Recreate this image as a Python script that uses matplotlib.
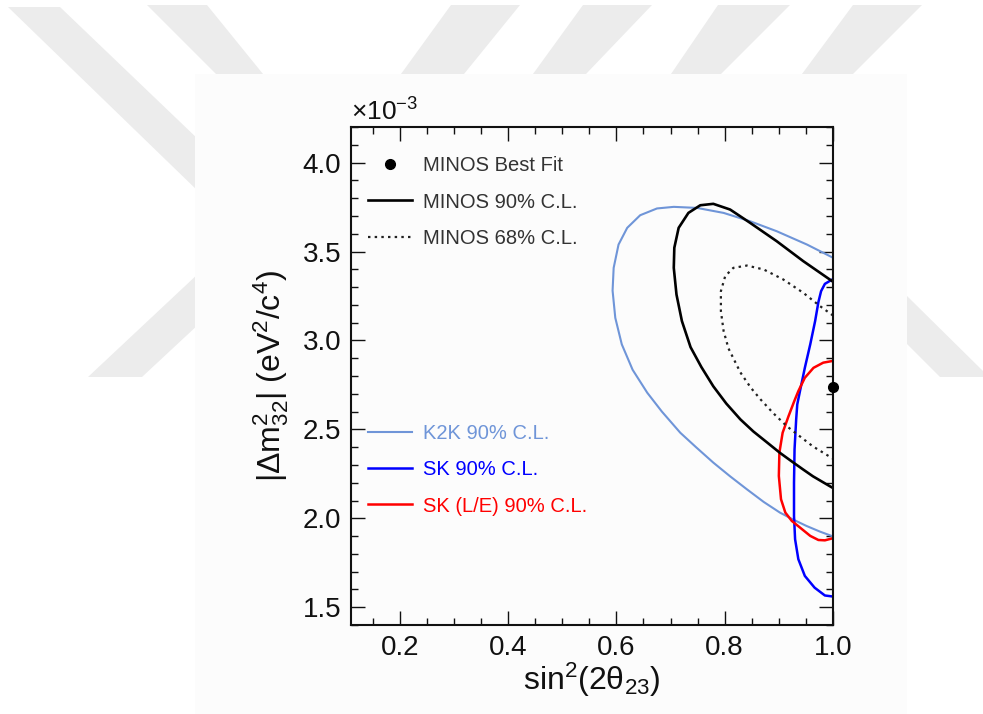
import matplotlib
matplotlib.use("Agg")
import matplotlib.pyplot as plt
from matplotlib.patches import Polygon, Rectangle
from matplotlib.ticker import MultipleLocator

plt.rcParams['font.family'] = ['Liberation Sans', 'DejaVu Sans']
plt.rcParams['mathtext.fontset'] = 'custom'
plt.rcParams['mathtext.rm'] = 'Liberation Sans'
plt.rcParams['mathtext.it'] = 'Liberation Sans:italic'
plt.rcParams['mathtext.bf'] = 'Liberation Sans:bold'

# contours: x = sin^2(2 theta_23), y = |dm^2_32| in units of 1e-3 eV^2
k2k_x = [1.000, 0.952, 0.896, 0.847, 0.798, 0.749, 0.706, 0.675, 0.644, 0.620,
         0.604, 0.595, 0.593, 0.598, 0.610, 0.630, 0.657, 0.684, 0.718, 0.747,
         0.779, 0.810, 0.841, 0.872, 0.902, 0.927, 0.951, 0.976, 1.000]
k2k_y = [3.465, 3.539, 3.614, 3.670, 3.717, 3.745, 3.751, 3.742, 3.704, 3.633,
         3.539, 3.408, 3.280, 3.127, 2.978, 2.835, 2.706, 2.600, 2.481, 2.400,
         2.313, 2.236, 2.163, 2.092, 2.032, 1.992, 1.957, 1.925, 1.898]

minos90_x = [1.000, 0.945, 0.896, 0.847, 0.810, 0.779, 0.755, 0.733, 0.715, 0.707,
             0.706, 0.711, 0.721, 0.737, 0.757, 0.779, 0.803, 0.829, 0.853, 0.878,
             0.902, 0.926, 0.945, 0.963, 0.982, 1.000]
minos90_y = [3.330, 3.446, 3.558, 3.661, 3.736, 3.768, 3.760, 3.717, 3.633, 3.521,
             3.408, 3.258, 3.109, 2.962, 2.850, 2.742, 2.645, 2.556, 2.488, 2.427,
             2.368, 2.315, 2.274, 2.236, 2.202, 2.170]

minos68_x = [1.000, 0.976, 0.945, 0.908, 0.872, 0.841, 0.816, 0.801, 0.793, 0.793,
             0.798, 0.807, 0.829, 0.848, 0.866, 0.890, 0.915, 0.940, 0.963, 1.000]
minos68_y = [3.140, 3.193, 3.268, 3.343, 3.399, 3.421, 3.408, 3.362, 3.277, 3.165,
             3.053, 2.955, 2.820, 2.735, 2.669, 2.590, 2.517, 2.458, 2.404, 2.335]

sk_x = [1.000, 0.985, 0.978, 0.973, 0.967, 0.958, 0.948, 0.939, 0.934, 0.932,
        0.929, 0.928, 0.928, 0.930, 0.936, 0.948, 0.966, 0.985, 1.000]
sk_y = [3.345, 3.318, 3.277, 3.215, 3.109, 2.978, 2.846, 2.715, 2.640, 2.556,
        2.388, 2.200, 2.013, 1.882, 1.770, 1.676, 1.610, 1.566, 1.560]

sk_le_x = [1.000, 0.982, 0.964, 0.948, 0.936, 0.928, 0.918, 0.907, 0.901, 0.900,
           0.904, 0.912, 0.924, 0.939, 0.958, 0.973, 0.985, 1.000]
sk_le_y = [2.885, 2.875, 2.846, 2.790, 2.715, 2.655, 2.575, 2.481, 2.369, 2.238,
           2.107, 2.032, 1.985, 1.948, 1.901, 1.878, 1.876, 1.888]

best_fit_x = [1.0]
best_fit_y = [2.74]

W, H = 983, 714
fig = plt.figure(figsize=(W / 100, H / 100), dpi=100)
fig.patch.set_facecolor('white')


def px(points):
    # pixel coords (y down) -> figure fraction
    return [(x / W, 1 - y / H) for x, y in points]


# faint background stripes behind the page
stripes = [
    [(8, 7), (60, 7), (200, 141), (200, 193)],
    [(200, 272), (200, 323), (142, 377), (88, 377)],
    [(147, 5), (207, 5), (263, 74), (216, 74)],
    [(451, 5), (520, 5), (464, 74), (401, 74)],
    [(583, 5), (652, 5), (586, 74), (533, 74)],
    [(718, 5), (790, 5), (721, 74), (671, 74)],
    [(853, 5), (922, 5), (853, 74), (802, 74)],
    [(907, 296), (983, 371), (983, 377), (940, 377), (907, 344)],
]
for s in stripes:
    fig.patches.append(Polygon(px(s), closed=True, transform=fig.transFigure,
                               facecolor='#ececec', edgecolor='none', zorder=-3))
fig.patches.append(Rectangle((195 / W, 0), (907 - 195) / W, 1 - 74 / H,
                             transform=fig.transFigure, facecolor='#fcfcfc',
                             edgecolor='none', zorder=-2))

ax = fig.add_axes([351 / W, 1 - 625 / H, (833 - 351) / W, (625 - 127) / H])
ax.set_facecolor('#fcfcfc')

k2k_col = '#6f95d8'
ax.plot(k2k_x, k2k_y, color=k2k_col, lw=1.5, label='K2K 90% C.L.')
ax.plot(sk_x, sk_y, color='#0000ff', lw=1.8, label='SK 90% C.L.')
ax.plot(sk_le_x, sk_le_y, color='#ff0000', lw=1.8, label='SK (L/E) 90% C.L.')
ax.plot(minos90_x, minos90_y, color='black', lw=1.9, label='MINOS 90% C.L.')
ax.plot(minos68_x, minos68_y, color='#222222', lw=1.6, ls=(0, (1.1, 1.9)),
        label='MINOS 68% C.L.')
ax.plot(best_fit_x, best_fit_y, 'o', color='black', ms=7, clip_on=False,
        zorder=10, label='MINOS Best Fit')

ax.set_xlim(0.11, 1.0)
ax.set_ylim(1.4, 4.2)
ax.xaxis.set_major_locator(MultipleLocator(0.2))
ax.xaxis.set_minor_locator(MultipleLocator(0.05))
ax.yaxis.set_major_locator(MultipleLocator(0.5))
ax.yaxis.set_minor_locator(MultipleLocator(0.1))
ax.xaxis.set_major_formatter(lambda v, p: f'{v:.1f}')
ax.yaxis.set_major_formatter(lambda v, p: f'{v:.1f}')
ax.tick_params(which='both', direction='in', top=True, right=True,
               width=1.0, colors='#111111')
ax.tick_params(which='major', length=10, labelsize=20, pad=7)
ax.tick_params(which='minor', length=5)
for sp in ax.spines.values():
    sp.set_linewidth(1.5)
    sp.set_color('#111111')

ax.set_xlabel(r'sin$^{2}$(2θ$_{23}$)', fontsize=23, color='#111111')
ax.xaxis.set_label_coords(0.5, -0.072)
ax.set_ylabel(r'|Δ$\mathrm{m}^{2}_{32}$| (eV$^{2}$/c$^{4}$)', fontsize=23,
              color='#111111')
ax.yaxis.set_label_coords(-0.125, 0.5)
ax.text(0.0, 1.003, r'×10$^{-3}$', transform=ax.transAxes, ha='left',
        va='bottom', fontsize=19, color='#111111')

handles = {h.get_label(): h for h in ax.get_lines()}
leg_kw = dict(loc='upper left', frameon=False, fontsize=14.5,
              handlelength=2.2, handletextpad=0.55, labelspacing=0.85,
              borderpad=0, borderaxespad=0)
leg1 = ax.legend([handles['MINOS Best Fit'], handles['MINOS 90% C.L.'],
                  handles['MINOS 68% C.L.']],
                 ['MINOS Best Fit', 'MINOS 90% C.L.', 'MINOS 68% C.L.'],
                 bbox_to_anchor=(0.035, 0.941), labelcolor='#333333',
                 numpoints=1, **leg_kw)
ax.add_artist(leg1)
ax.legend([handles['K2K 90% C.L.'], handles['SK 90% C.L.'],
           handles['SK (L/E) 90% C.L.']],
          ['K2K 90% C.L.', 'SK 90% C.L.', 'SK (L/E) 90% C.L.'],
          bbox_to_anchor=(0.035, 0.403), labelcolor='linecolor', **leg_kw)

fig.savefig('out.png', dpi=100)
